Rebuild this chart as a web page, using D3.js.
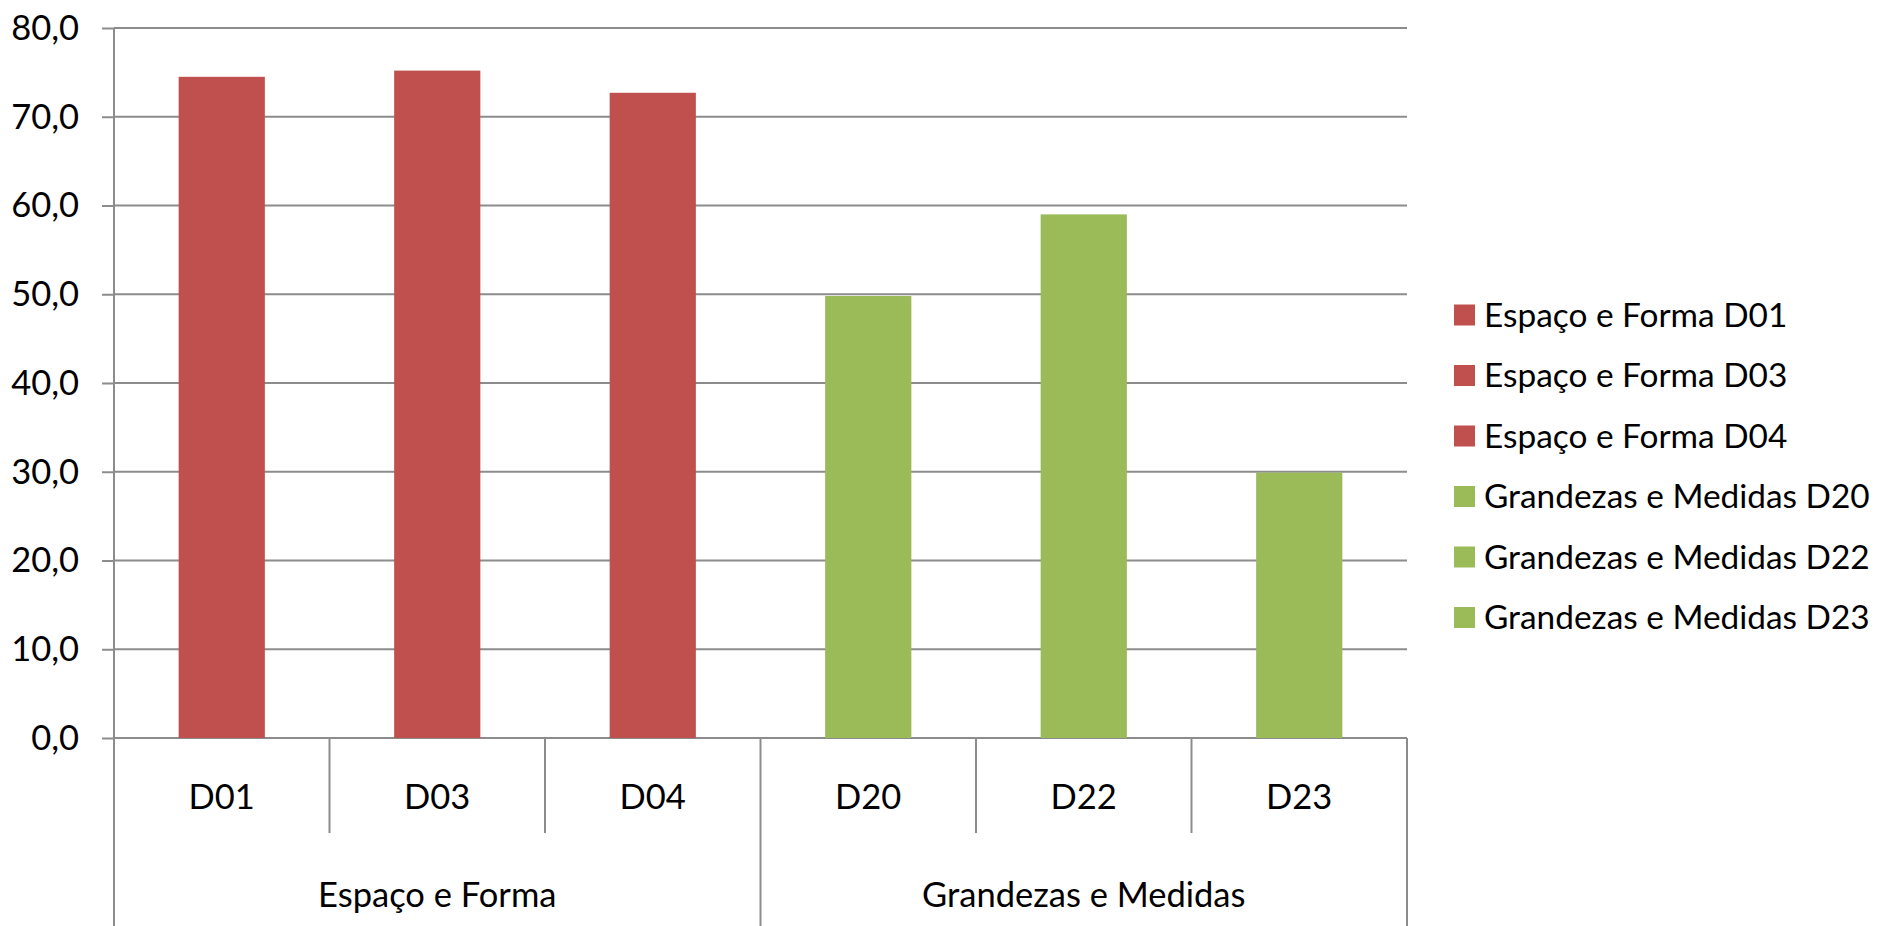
<!DOCTYPE html>
<html>
<head>
<meta charset="utf-8">
<script src="https://cdn.jsdelivr.net/npm/d3@7"></script>
<style>
  html, body { margin: 0; padding: 0; background: #fff; }
  svg { display: block; font-family: Lato, "Open Sans", sans-serif; }
</style>
</head>
<body>
<svg id="chart" width="1881" height="926"></svg>
<script>
const categories = ["D01", "D03", "D04", "D20", "D22", "D23"]
const groupOf = ["Espaço e Forma", "Espaço e Forma", "Espaço e Forma",
  "Grandezas e Medidas", "Grandezas e Medidas", "Grandezas e Medidas"]
const values = [74.5, 75.2, 72.7, 49.8, 59.0, 29.9]
const yTicks = [0, 10, 20, 30, 40, 50, 60, 70, 80]
const groupColors = { "Espaço e Forma": "#C0504D", "Grandezas e Medidas": "#9BBB59" }

const svg = d3.select("#chart")
const plotLeft = 114, plotRight = 1407, plotTop = 28, plotBottom = 738
const gridColor = "#8c8c8c"
const fontSize = 34.5
const legendFontSize = 33.4

const x = d3.scaleBand()
  .domain(categories)
  .range([plotLeft, plotRight])
  .paddingInner(0.6)
  .paddingOuter(0.3)

const y = d3.scaleLinear()
  .domain([0, 80])
  .range([plotBottom, plotTop])

const commaFmt = d3.formatLocale({ decimal: ",", thousands: ".", grouping: [3], currency: ["", ""] }).format(".1f")

// Gridlines
svg.append("g")
  .selectAll("line")
  .data(yTicks)
  .join("line")
  .attr("x1", plotLeft)
  .attr("x2", plotRight)
  .attr("y1", d => y(d))
  .attr("y2", d => y(d))
  .attr("stroke", gridColor)
  .attr("stroke-width", 2)

// Y axis with labels
const yAxis = svg.append("g")
  .attr("transform", `translate(${plotLeft},0)`)
  .call(d3.axisLeft(y).tickValues(yTicks).tickFormat(commaFmt).tickSize(12).tickPadding(23))

yAxis.select(".domain").remove()
yAxis.selectAll(".tick line").attr("stroke", gridColor).attr("stroke-width", 2)
yAxis.selectAll(".tick text")
  .attr("font-size", fontSize)
  .attr("font-family", "Lato, sans-serif")
  .attr("fill", "#000")
  .attr("dy", "0.33em")

// Bars
svg.append("g")
  .selectAll("rect")
  .data(values)
  .join("rect")
  .attr("x", (d, i) => x(categories[i]))
  .attr("y", d => y(d))
  .attr("width", x.bandwidth())
  .attr("height", d => y(0) - y(d))
  .attr("fill", (d, i) => groupColors[groupOf[i]])

// Vertical axis line
svg.append("line")
  .attr("x1", plotLeft).attr("x2", plotLeft)
  .attr("y1", plotTop).attr("y2", 926)
  .attr("stroke", gridColor).attr("stroke-width", 2)

// Category boundaries on the x axis
const step = x.step()
const boundaries = d3.range(categories.length + 1)
svg.append("g")
  .selectAll("line")
  .data(boundaries)
  .join("line")
  .attr("x1", i => plotLeft + i * step)
  .attr("x2", i => plotLeft + i * step)
  .attr("y1", plotBottom)
  .attr("y2", i => (i === 0 || i === categories.length || groupOf[i - 1] !== groupOf[i]) ? 926 : 833)
  .attr("stroke", gridColor)
  .attr("stroke-width", 2)

// Category labels
svg.append("g")
  .selectAll("text")
  .data(categories)
  .join("text")
  .attr("x", d => x(d) + x.bandwidth() / 2)
  .attr("y", 797)
  .attr("dy", "0.35em")
  .attr("text-anchor", "middle")
  .attr("font-size", fontSize)
  .text(d => d)

// Group labels
const groupNames = Array.from(new Set(groupOf))
svg.append("g")
  .selectAll("text")
  .data(groupNames)
  .join("text")
  .attr("x", g => {
    const idx = groupOf.map((v, i) => v === g ? i : -1).filter(i => i >= 0)
    return plotLeft + (d3.min(idx) + d3.max(idx) + 1) / 2 * step
  })
  .attr("y", 895)
  .attr("dy", "0.35em")
  .attr("text-anchor", "middle")
  .attr("font-size", fontSize)
  .text(g => g)

// Legend
const legend = svg.append("g")
  .attr("transform", "translate(1454, 315)")

categories.forEach((c, i) => {
  const row = legend.append("g")
    .attr("transform", `translate(0, ${i * 60.5})`)

  row.append("rect")
    .attr("x", 0)
    .attr("y", -10.5)
    .attr("width", 21)
    .attr("height", 21)
    .attr("fill", groupColors[groupOf[i]])

  row.append("text")
    .attr("x", 30)
    .attr("y", 0)
    .attr("dy", "0.35em")
    .attr("font-size", legendFontSize)
    .text(`${groupOf[i]} ${c}`)
})
</script>
</body>
</html>
